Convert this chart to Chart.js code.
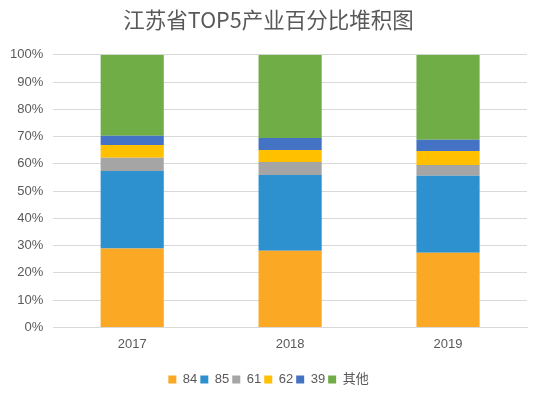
<!DOCTYPE html>
<html><head><meta charset="utf-8">
<script src="https://cdn.jsdelivr.net/npm/chart.js@4"></script>
<style>html,body{margin:0;padding:0;background:#fff}#wrap{width:542px;height:396px}</style>
</head><body><div id="wrap"><canvas id="c"></canvas></div>
<script>
const categories = ['2017', '2018', '2019'];
const seriesNames = ['84', '85', '61', '62', '39', '其他'];
const s84 = [28.9, 28.1, 27.4];
const s85 = [28.5, 27.8, 28.2];
const s61 = [4.8, 4.8, 4.0];
const s62 = [4.7, 4.4, 5.1];
const s39 = [3.4, 4.4, 4.1];
const sOther = [29.7, 30.5, 31.2];
const colors = ['#FBA824', '#2E91CF', '#A5A5A5', '#FFC000', '#4472C4', '#70AD47'];
const seriesData = [s84, s85, s61, s62, s39, sOther];
const FONT = '"Liberation Sans", "Noto Sans CJK SC", sans-serif';

new Chart(document.getElementById('c'), {
  type: 'bar',
  data: {
    labels: categories,
    datasets: seriesNames.map((n, i) => ({
      label: n, data: seriesData[i], backgroundColor: colors[i],
      borderWidth: 0, categoryPercentage: 1, barPercentage: 0.4
    }))
  },
  options: {
    responsive: true, maintainAspectRatio: false, animation: false,
    layout: { padding: { left: 10, right: 15, top: 4, bottom: 0 } },
    plugins: {
      title: { display: true, text: '江苏省TOP5产业百分比堆积图', color: '#595959',
        font: { family: '"Noto Sans CJK SC", sans-serif', size: 21.5, weight: 'normal' },
        padding: { top: 3, bottom: 22 } },
      legend: { position: 'bottom', labels: { color: '#595959', usePointStyle: true, pointStyle: 'rect',
        boxWidth: 8, boxHeight: 8, padding: 3, font: { family: FONT, size: 13 } } },
      tooltip: { enabled: false }
    },
    scales: {
      x: { stacked: true, grid: { display: false }, border: { color: '#d9d9d9' },
        ticks: { color: '#595959', font: { family: FONT, size: 13 }, padding: 1 },
        title: { display: true, text: ' ', font: { size: 17, lineHeight: 1 }, padding: 0 } },
      y: { stacked: true, min: 0, max: 100,
        grid: { color: '#d9d9d9', drawTicks: false }, border: { display: false },
        ticks: { stepSize: 10, color: '#595959', padding: 10, font: { family: FONT, size: 13 },
          callback: v => v + '%' },
        afterFit: s => { s.width -= 10; } }
    }
  }
});
</script></body></html>
